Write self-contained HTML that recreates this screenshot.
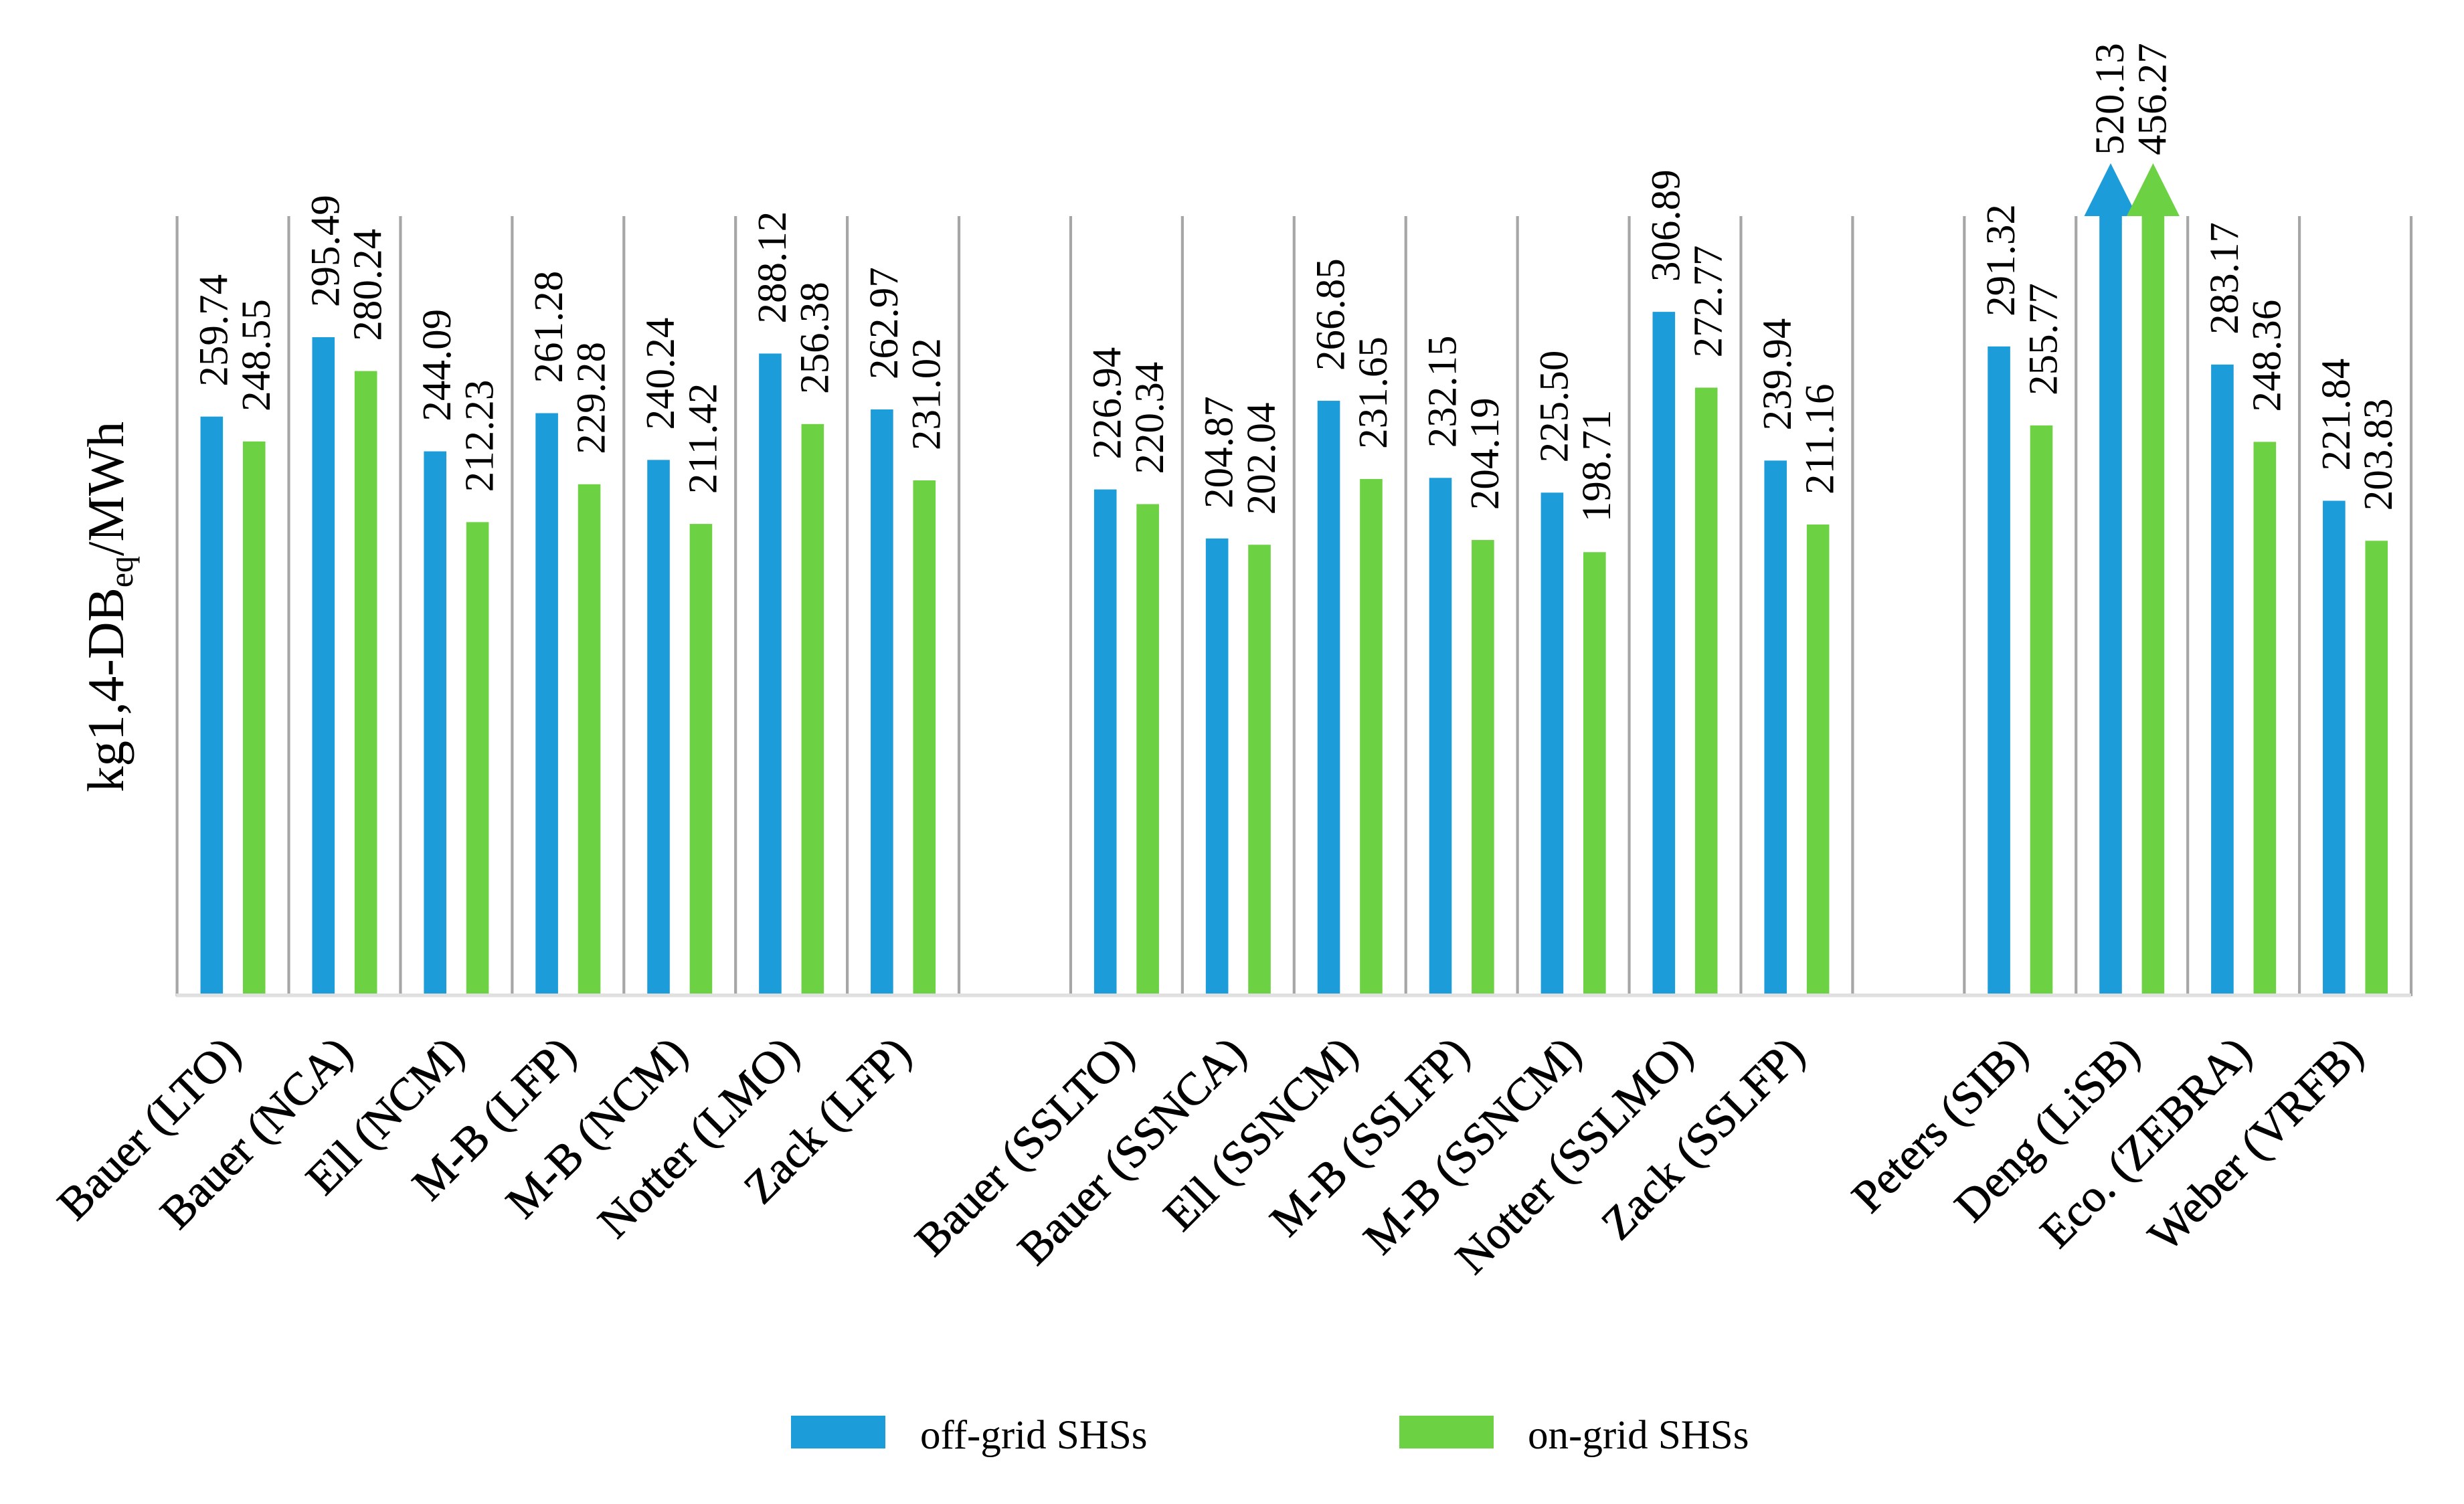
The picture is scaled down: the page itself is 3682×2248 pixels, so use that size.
<!DOCTYPE html>
<html lang="en">
<head>
<meta charset="utf-8">
<title>Bar chart of kg1,4-DBeq/MWh for off-grid and on-grid SHSs</title>
<style>
html,body{margin:0;padding:0;background:#fff;width:3682px;height:2248px;overflow:hidden}
svg{display:block}
text{font-family:"Liberation Serif",serif;fill:#000}
</style>
</head>
<body>
<svg id="chart" xmlns="http://www.w3.org/2000/svg" width="3682" height="2248" viewBox="0 0 3682 2248">
  <rect x="0" y="0" width="3682" height="2248" fill="#ffffff"/>
  <text transform="translate(184,907) rotate(-90)" text-anchor="middle" font-size="77">kg1,4-DB<tspan dy="14" font-size="50">eq</tspan><tspan dy="-14">/MWh</tspan></text>
  <g id="grid"></g>
  <g id="bars"></g>
  <g id="values"></g>
  <g id="cats"></g>
  <g>
    <rect x="1182" y="2116" width="141" height="49" fill="#1c9cd9"/>
    <text x="1375" y="2165" font-size="61">off-grid SHSs</text>
    <rect x="2091" y="2116" width="141" height="49" fill="#6dd144"/>
    <text x="2283" y="2165" font-size="61">on-grid SHSs</text>
  </g>
</svg>
<script>
const categories = ["Bauer (LTO)","Bauer (NCA)","Ell (NCM)","M-B (LFP)","M-B (NCM)","Notter (LMO)","Zack (LFP)","","Bauer (SSLTO)","Bauer (SSNCA)","Ell (SSNCM)","M-B (SSLFP)","M-B (SSNCM)","Notter (SSLMO)","Zack (SSLFP)","","Peters (SIB)","Deng (LiSB)","Eco. (ZEBRA)","Weber (VRFB)"];
const offGrid = [259.74,295.49,244.09,261.28,240.24,288.12,262.97,null,226.94,204.87,266.85,232.15,225.50,306.89,239.94,null,291.32,520.13,283.17,221.84];
const onGrid = [248.55,280.24,212.23,229.28,211.42,256.38,231.02,null,220.34,202.04,231.65,204.19,198.71,272.77,211.16,null,255.77,456.27,248.36,203.83];
const axisMax = 350;

const NS = "http://www.w3.org/2000/svg";
const plotLeft = 264.6, plotRight = 3603, plotTop = 323, plotBottom = 1485;
const BLUE = "#1c9cd9", GREEN = "#6dd144";
const catW = (plotRight - plotLeft) / categories.length;

function xScale(i){ return plotLeft + catW * (i + 0.5); }
function yScale(v){ return plotBottom - (Math.min(v, axisMax) / axisMax) * (plotBottom - plotTop); }

function make(tag, attrs){
  const el = document.createElementNS(NS, tag);
  for (const k in attrs) el.setAttribute(k, attrs[k]);
  return el;
}

const grid = document.getElementById("grid");
const barsG = document.getElementById("bars");
const valuesG = document.getElementById("values");
const catsG = document.getElementById("cats");

for (let i = 0; i <= categories.length; i++) {
  const x = plotLeft + catW * i;
  const line = make("line", {x1:x, x2:x, y1:plotTop, y2:plotBottom + 4, stroke:"#a6a6a6", "stroke-width":4.2});
  
  
  grid.appendChild(line);
}

const axis = make("rect", {x:plotLeft - 1.5, y:plotBottom, width:plotRight - plotLeft + 1.5, height:5.5, fill:"#e0e0e0"});


grid.appendChild(axis);

function drawSeries(values, offset, color, seriesName){
  values.forEach(function(v, i){
    if (v === null) return;
    const cx = xScale(i) + offset;
    const top = yScale(v);
    const bar = make("rect", {x:cx - 16.8, y:top, width:33.6, height:plotBottom - top, fill:color});
    
    
    barsG.appendChild(bar);

    const over = v > axisMax;
    if (over) {
      const tri = make("polygon", {points:(cx - 39.5) + "," + plotTop + " " + cx + "," + (plotTop - 79) + " " + (cx + 39.5) + "," + plotTop, fill:color});
      
      
      barsG.appendChild(tri);
    }

    const lx = cx + (over ? 19 : 23);
    const ly = over ? plotTop - 91 : top - 45;
    const label = make("text", {transform:"translate(" + lx + "," + ly + ") rotate(-90)", "font-size":61});
    
    
    label.textContent = v.toFixed(2);
    valuesG.appendChild(label);
  });
}

drawSeries(offGrid, -31.7, BLUE, "off-grid");
drawSeries(onGrid, 31.7, GREEN, "on-grid");

categories.forEach(function(name, i){
  if (!name) return;
  const x = xScale(i) + 15;
  const t = make("text", {transform:"translate(" + x + ",1578) rotate(-45)", "text-anchor":"end", "font-size":68.5, stroke:"#000", "stroke-width":0.9});
  
  
  t.textContent = name;
  catsG.appendChild(t);
});
</script>
</body>
</html>
